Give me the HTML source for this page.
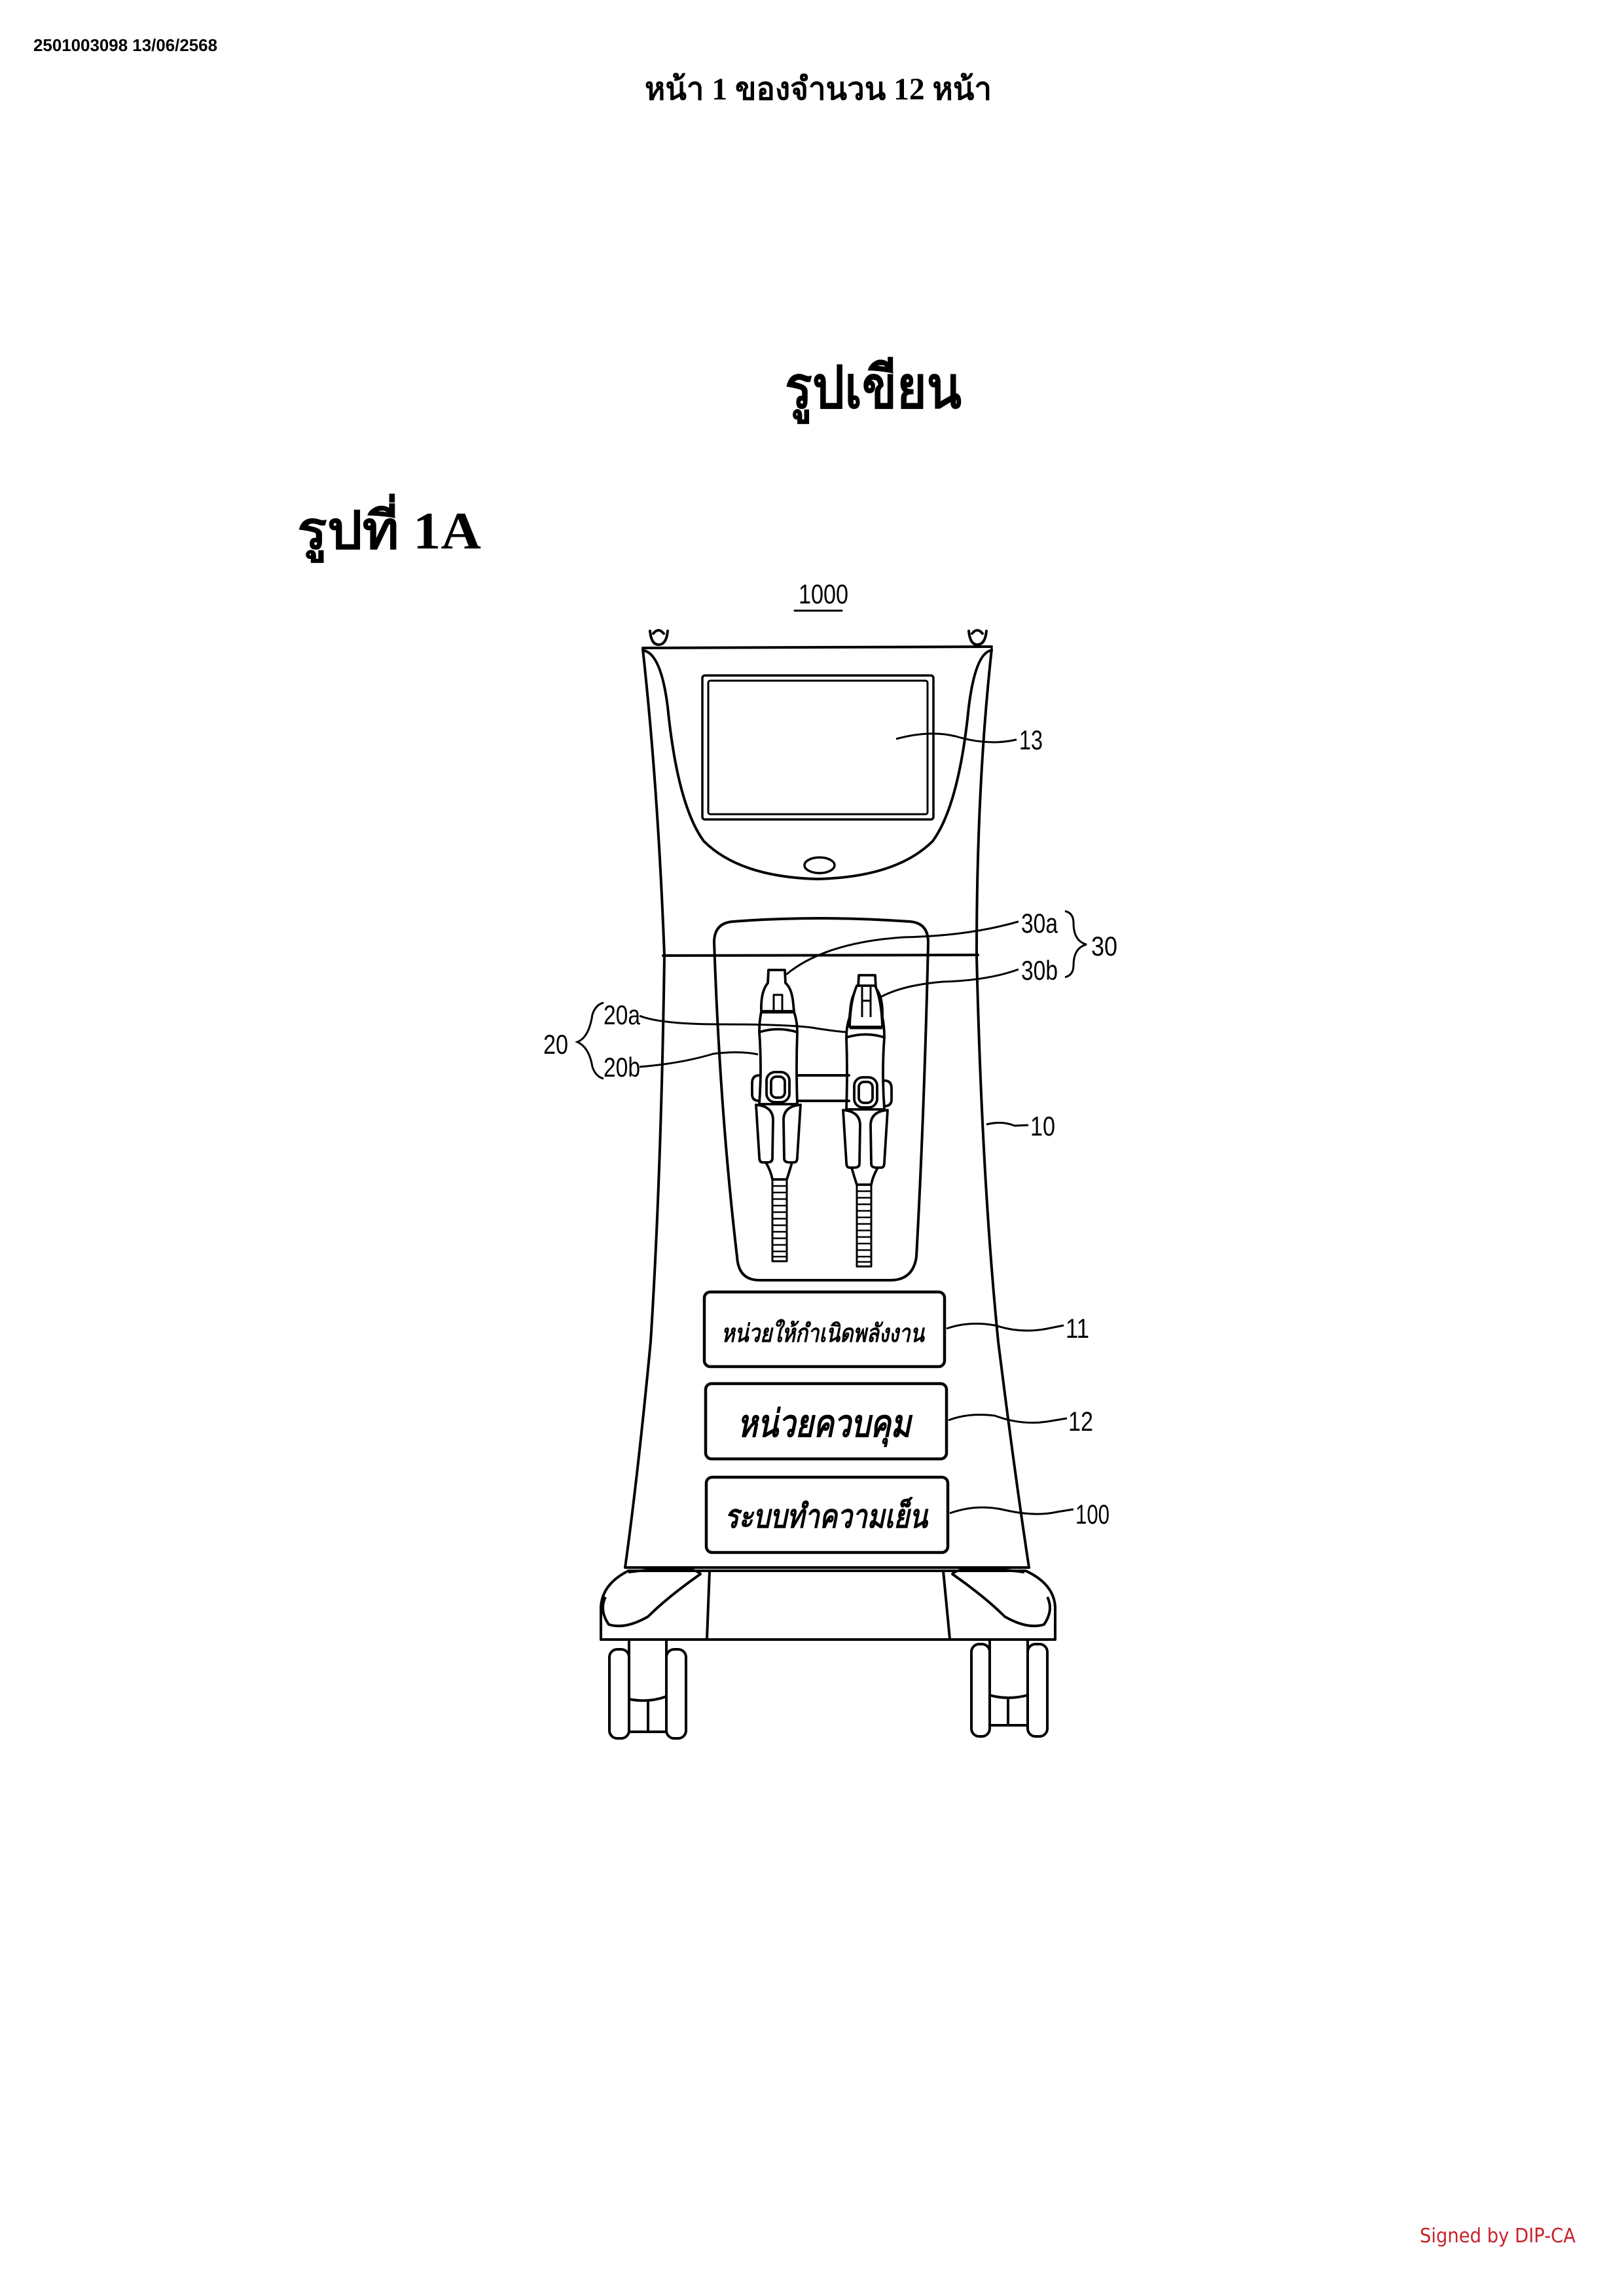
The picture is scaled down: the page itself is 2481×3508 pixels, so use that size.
<!DOCTYPE html>
<html><head><meta charset="utf-8"><style>
html,body{margin:0;padding:0;background:#fff}
svg{display:block}
</style></head><body>
<svg xmlns="http://www.w3.org/2000/svg" width="2481" height="3508" viewBox="0 0 2481 3508">
<rect width="2481" height="3508" fill="#fff"/>
<g font-family="'Liberation Serif','Noto Serif CJK SC',serif" fill="#000" font-weight="bold">
<text x="51" y="78" font-family="'Liberation Sans',sans-serif" font-size="26" textLength="281" lengthAdjust="spacingAndGlyphs">2501003098 13/06/2568</text>
<text x="985" y="152" font-size="48" textLength="530" lengthAdjust="spacingAndGlyphs">หน้า 1 ของจำนวน 12 หน้า</text>
<text x="1199" y="623" font-size="90" textLength="270" lengthAdjust="spacingAndGlyphs">รูปเขียน</text>
<text x="454" y="838" font-size="80" textLength="281" lengthAdjust="spacingAndGlyphs">รูปที่ 1A</text>
</g>
<text x="2169" y="3426" font-family="'DejaVu Sans','Liberation Sans',sans-serif" font-size="30" fill="#c8232c" textLength="238" lengthAdjust="spacingAndGlyphs">Signed by DIP-CA</text>

<g fill="none" stroke="#000" stroke-width="4" stroke-linecap="round" stroke-linejoin="round">
<line x1="1214" y1="933" x2="1286" y2="933" stroke-width="3"/>
<!-- hooks -->
<path d="M993 964 Q995 985 1006 985 Q1018 985 1020 964"/><path d="M998 968 Q1006 958 1014 968"/>
<path d="M1480 964 Q1482 985 1493 985 Q1505 985 1507 964"/><path d="M1485 968 Q1493 958 1501 968"/>
<line x1="982" y1="990" x2="1515" y2="988"/>
<path d="M982 992 Q1005 1200 1015 1460 Q1010 1800 994 2050 Q975 2250 955 2395"/>
<path d="M1515 992 Q1492 1200 1492 1460 Q1500 1800 1525 2050 Q1550 2250 1572 2395"/>
<path d="M984 994 Q1010 1000 1020 1080 Q1035 1230 1075 1285 Q1130 1340 1249 1343 Q1370 1340 1425 1285 Q1465 1230 1480 1080 Q1490 1000 1513 994"/>
<rect x="1073" y="1032" width="353" height="220" rx="4" stroke-width="3.5"/>
<rect x="1082" y="1040" width="335" height="204" rx="3" stroke-width="3"/>
<ellipse cx="1252" cy="1322" rx="23" ry="12" stroke-width="3.5"/>
<line x1="1013" y1="1460" x2="1494" y2="1459"/>
<path d="M1120 1408 Q1250 1398 1390 1408 Q1418 1410 1418 1440 Q1412 1700 1400 1920 Q1395 1956 1360 1956 L1160 1956 Q1128 1956 1126 1920 Q1100 1700 1091 1440 Q1091 1410 1120 1408 Z"/>
<line x1="1218" y1="1643" x2="1297" y2="1643"/>
<line x1="1218" y1="1682" x2="1297" y2="1682"/>
</g>

<defs>
<g id="hp" fill="none" stroke="#000" stroke-width="3.8" stroke-linejoin="round">
<path d="M1174 1482 L1199 1482 L1200 1502 Q1210 1510 1212 1535 L1213 1545 L1163 1545 Q1162 1515 1173 1502 Z" fill="#fff"/>
<rect x="1182" y="1520" width="13" height="25" stroke-width="3"/>
<line x1="1163" y1="1546" x2="1213" y2="1546" stroke-width="5"/>
<path d="M1163 1546 Q1160 1560 1160 1577 Q1164 1630 1160 1687 L1218 1687 Q1216 1630 1218 1577 Q1218 1560 1213 1546"/>
<path d="M1160 1577 Q1188 1568 1218 1577"/>
<path d="M1160 1643 Q1149 1643 1149 1655 L1149 1672 Q1149 1682 1160 1682"/>
<rect x="1171" y="1638" width="35" height="46" rx="13"/>
<rect x="1178" y="1645" width="21" height="32" rx="8"/>
<path d="M1155 1688 Q1180 1690 1181 1710 L1180 1770 Q1180 1776 1172 1776 L1165 1776 Q1160 1776 1160 1768 Z"/>
<path d="M1223 1688 Q1198 1690 1197 1710 L1198 1770 Q1198 1776 1206 1776 L1213 1776 Q1218 1776 1218 1768 Z"/>
<path d="M1170 1776 Q1178 1790 1180 1802 L1202 1802 Q1206 1790 1210 1776"/>
<rect x="1180" y="1802" width="22" height="125" stroke-width="3"/>
<path d="M1180 1812h22M1180 1822h22M1180 1832h22M1180 1842h22M1180 1852h22M1180 1862h22M1180 1872h22M1180 1882h22M1180 1892h22M1180 1902h22M1180 1912h22M1180 1920h22" stroke-width="2.5"/>
</g>
<g id="hp2" fill="none" stroke="#000" stroke-width="3.8" stroke-linejoin="round">
<path d="M1174 1482 L1202 1482 Q1212 1505 1213 1545 L1163 1545 Q1164 1505 1174 1482 Z" fill="#fff"/>
<path d="M1182 1484 L1182 1530 M1195 1484 L1195 1530 M1182 1505 L1195 1505" stroke-width="3"/>
<line x1="1163" y1="1546" x2="1213" y2="1546" stroke-width="5"/>
</g>
</defs>
<use href="#hp"/>
<g transform="translate(135,8)"><use href="#hp" transform="translate(1188,0) scale(-1,1) translate(-1188,0)"/></g>
<g transform="translate(135,24)"><use href="#hp2"/></g>

<g fill="none" stroke="#000" stroke-width="4.5">
<rect x="1076" y="1974" width="367" height="114" rx="9"/>
<rect x="1078" y="2114" width="368" height="115" rx="9"/>
<rect x="1079" y="2257" width="369" height="115" rx="9"/>
</g>
<g font-family="'Liberation Serif','Noto Serif CJK SC',serif" font-weight="bold" font-style="italic" fill="#000" text-anchor="middle">
<text x="1257" y="2050" font-size="38" textLength="310" lengthAdjust="spacingAndGlyphs">หน่วยให้กำเนิดพลังงาน</text>
<text x="1259" y="2195" font-size="58" textLength="265" lengthAdjust="spacingAndGlyphs">หน่วยควบคุม</text>
<text x="1262" y="2334" font-size="50" textLength="310" lengthAdjust="spacingAndGlyphs">ระบบทำความเย็น</text>
</g>

<g fill="none" stroke="#000" stroke-width="4" stroke-linejoin="round">
<line x1="955" y1="2395" x2="1572" y2="2395"/>
<path d="M918 2505 L918 2455 Q920 2420 960 2400 L1567 2400 Q1610 2420 1612 2455 L1612 2505 Z"/>
<path d="M1084 2400 L1080 2504 M1441 2400 L1451 2504"/>
<path d="M960 2402 Q1060 2390 1070 2405 Q1020 2440 990 2470 Q955 2490 930 2482 Q915 2460 925 2440"/>
<path d="M1565 2402 Q1465 2390 1455 2405 Q1505 2440 1535 2470 Q1570 2490 1595 2482 Q1610 2460 1600 2440"/>
<rect x="931" y="2520" width="30" height="136" rx="12"/>
<rect x="1018" y="2520" width="30" height="136" rx="12"/>
<path d="M961 2506 L961 2646 L1018 2646 M1018 2506 L1018 2646"/>
<path d="M961 2596 Q990 2602 1018 2592 M990 2600 L990 2646"/>
<rect x="1484" y="2512" width="28" height="141" rx="12"/>
<rect x="1570" y="2512" width="30" height="141" rx="12"/>
<path d="M1512 2506 L1512 2636 L1570 2636 M1570 2504 L1570 2636"/>
<path d="M1512 2590 Q1540 2598 1570 2590 M1540 2596 L1540 2636"/>
</g>

<g fill="none" stroke="#000" stroke-width="3">
<path d="M1369 1129 Q1420 1115 1460 1125 Q1510 1140 1553 1130"/>
<path d="M1201 1489 Q1260 1440 1380 1432 Q1480 1430 1556 1408"/>
<path d="M1346 1523 Q1380 1505 1440 1500 Q1510 1498 1556 1481"/>
<path d="M977 1552 Q1010 1565 1100 1565 Q1200 1565 1240 1570 Q1270 1575 1293 1577"/>
<path d="M977 1630 Q1040 1625 1090 1610 Q1130 1605 1158 1611"/>
<path d="M1507 1718 Q1530 1712 1550 1720 L1571 1719"/>
<path d="M1446 2030 Q1480 2018 1520 2025 Q1560 2038 1600 2030 L1625 2025"/>
<path d="M1449 2170 Q1480 2158 1520 2163 Q1560 2178 1600 2172 L1630 2167"/>
<path d="M1451 2312 Q1490 2298 1530 2306 Q1580 2318 1615 2310 L1640 2306"/>
<path d="M1627 1392 Q1640 1395 1640 1410 Q1640 1438 1660 1443 Q1640 1448 1640 1475 Q1640 1490 1627 1493"/>
<path d="M922 1532 Q910 1535 905 1550 Q900 1585 882 1592 Q900 1600 905 1630 Q910 1645 922 1648"/>
</g>

<g font-family="'Liberation Sans Narrow','Liberation Sans',sans-serif" font-size="42" fill="#000">
<text x="1220" y="922" textLength="76" lengthAdjust="spacingAndGlyphs">1000</text>
<text x="1557" y="1145" textLength="36" lengthAdjust="spacingAndGlyphs">13</text>
<text x="1560" y="1425" textLength="56" lengthAdjust="spacingAndGlyphs">30a</text>
<text x="1560" y="1497" textLength="56" lengthAdjust="spacingAndGlyphs">30b</text>
<text x="1667" y="1460" textLength="40" lengthAdjust="spacingAndGlyphs">30</text>
<text x="922" y="1565" textLength="56" lengthAdjust="spacingAndGlyphs">20a</text>
<text x="922" y="1645" textLength="56" lengthAdjust="spacingAndGlyphs">20b</text>
<text x="830" y="1610" textLength="38" lengthAdjust="spacingAndGlyphs">20</text>
<text x="1574" y="1735" textLength="38" lengthAdjust="spacingAndGlyphs">10</text>
<text x="1628" y="2044" textLength="36" lengthAdjust="spacingAndGlyphs">11</text>
<text x="1632" y="2186" textLength="38" lengthAdjust="spacingAndGlyphs">12</text>
<text x="1643" y="2328" textLength="52" lengthAdjust="spacingAndGlyphs">100</text>
</g>
</svg>
</body></html>
